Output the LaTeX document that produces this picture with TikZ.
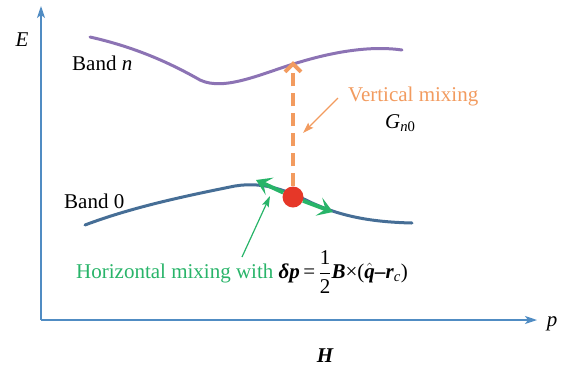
\documentclass[tikz,border=0pt]{standalone}
\usepackage{amsmath}
\usepackage{fontspec}
\setmainfont{Liberation Serif}
\usetikzlibrary{arrows.meta}
\definecolor{axisblue}{RGB}{80,140,195}
\definecolor{bandn}{RGB}{140,115,180}
\definecolor{bandz}{RGB}{70,110,150}
\definecolor{dotred}{RGB}{230,55,40}
\definecolor{vorange}{RGB}{242,155,95}
\definecolor{hgreen}{RGB}{40,180,105}
\tikzset{
  axis/.style={draw=axisblue,line width=1.3pt,-{Stealth[length=12pt,width=8pt,inset=3pt]}},
  band/.style={line width=3pt,line cap=round},
  lbl/.style={font=\fontsize{21}{24}\selectfont,inner sep=0pt},
  greenarrow/.style={draw=hgreen,line width=4pt,-{Stealth[length=15pt,width=19pt,inset=7pt]}},
  pointer/.style={line width=1.2pt,-{Stealth[length=11pt,width=7pt,inset=2pt]}}
}
\begin{document}
\begin{tikzpicture}[x=1pt,y=-1pt]
\useasboundingbox (0,0) rectangle (565,368);
% axes
\coordinate (O) at (41,320);
\coordinate (Etip) at (41,6);
\coordinate (ptip) at (537,320);
\draw[axis] (O) -- (Etip);
\draw[axis] (O) -- (ptip);
\node[lbl,font=\fontsize{21}{24}\selectfont\itshape] (E) at (22,40) {E};
\node[lbl,font=\fontsize{21}{24}\selectfont\itshape] (p) at (552,324) {p};
\node[lbl,font=\fontsize{21}{24}\selectfont\bfseries\itshape] (H) at (325,356) {H};
% bands
\draw[band,draw=bandn] (90,37) .. controls (130,46) and (165,60) .. (200,80)
  .. controls (225,92) and (265,72) .. (300,62)
  .. controls (340,50) and (375,46) .. (402,50);
\draw[band,draw=bandz] (85,225) .. controls (130,208) and (180,197) .. (235,186)
  .. controls (265,181) and (290,192) .. (310,202)
  .. controls (340,216) and (370,222) .. (412,223);
\node[lbl,anchor=west] (bn) at (72,63) {Band \textit{n}};
\node[lbl,anchor=west] (b0) at (64,201) {Band 0};
% vertical mixing
\node[circle,fill=dotred,minimum size=21pt,inner sep=0pt] (dot) at (293,197) {};
\coordinate (vtip) at (293,61);
\draw[draw=vorange,line width=4pt,dash pattern=on 13pt off 7pt,-{Straight Barb[length=8pt,width=16pt]}] (dot.north) -- (vtip);
\node[lbl,anchor=west,text=vorange] (vm) at (348,96) {Vertical mixing};
\node[lbl,anchor=west] (G) at (385,123) {\textit{G}\textsubscript{\textit{n}0}};
\coordinate (vpt) at (338,98);
\coordinate (vpe) at (303,133);
\draw[pointer,draw=vorange] (vpt) -- (vpe);
% horizontal mixing
\coordinate (hl) at (256,180);
\coordinate (hr) at (333,212);
\draw[greenarrow] (dot) -- (hl);
\draw[greenarrow] (dot) -- (hr);
\node[lbl,anchor=west] (hm) at (76,272) {\textcolor{hgreen}{Horizontal mixing with} \textbf{\textit{δp}}\,=\,$\dfrac{\text{1}}{\text{2}}$\textbf{\textit{B}}×($\hat{\text{\bfseries\itshape q}}$\textbf{–}\textbf{\textit{r}}\textsubscript{\textit{c}})};
\coordinate (hpt) at (242,257);
\coordinate (hpe) at (270,196);
\draw[pointer,draw=hgreen] (hpt) -- (hpe);
\end{tikzpicture}
\end{document}
